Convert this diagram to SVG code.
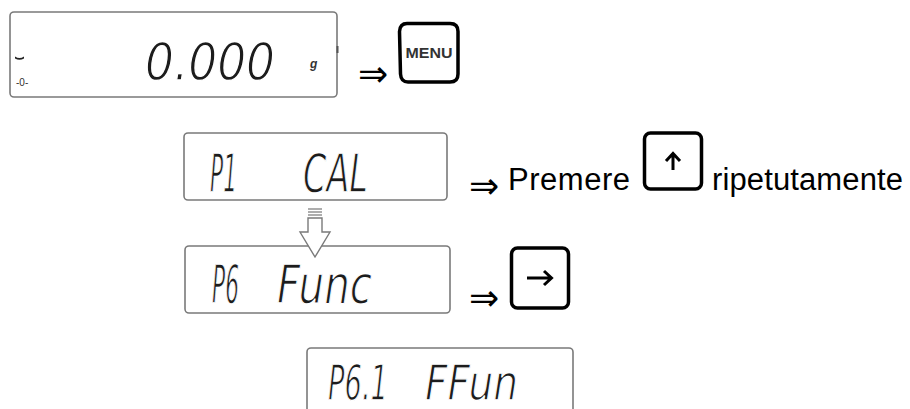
<svg xmlns="http://www.w3.org/2000/svg" width="910" height="409" viewBox="0 0 910 409">
<style>
.lcd{fill:#fff;stroke:#7a7a7a;stroke-width:1.6}
.seg{font-family:"DejaVu Sans",sans-serif;font-style:italic;fill:#1c1c1c;stroke:#fff;stroke-width:1.3}
.key{fill:#fff;stroke:#000;stroke-width:3.5}
.txt{font-family:"Liberation Sans",Arial,sans-serif;font-size:31px;fill:#000}
.imp{font-family:"DejaVu Sans",sans-serif;font-size:36px;fill:#000}
</style>
<rect width="910" height="409" fill="#fff"/>
<g id="display-zero">
<rect class="lcd" x="10" y="12" width="327" height="85" rx="4"/>
<rect x="336.5" y="46" width="2" height="7" fill="#555"/>
<path d="M15 56.5 Q19.5 59.5 24 56.5 L24 58.5 Q19.5 61 15 58.5 Z" fill="#222"/>
<text x="16" y="86" font-family="Liberation Sans,Arial,sans-serif" font-size="10" fill="#333">-0-</text>
<text class="seg" x="145" y="80" font-size="51" textLength="130" lengthAdjust="spacingAndGlyphs">0.000</text>
<text x="310" y="68" font-family="Liberation Sans,Arial,sans-serif" font-size="12" font-weight="bold" font-style="italic" fill="#333">g</text>
</g>
<g id="imp1"><text class="imp" x="358" y="86">⇒</text></g>
<g id="key-menu">
<path class="key" d="M407 23.5 H450 Q458 23.5 458 31.5 V74 Q458 82 450 82 H408 Q401 82 400.5 74 L399.5 31.5 Q400 23.5 407 23.5 Z" stroke-width="3"/>
<text x="429" y="57.5" text-anchor="middle" font-family="Liberation Sans,Arial,sans-serif" font-size="14" font-weight="bold" fill="#333" textLength="47" lengthAdjust="spacingAndGlyphs">MENU</text>
</g>
<g id="display-p1">
<rect class="lcd" x="184" y="133" width="263" height="67" rx="4"/>
<text class="seg" y="192" font-size="53"><tspan x="210" textLength="27" lengthAdjust="spacingAndGlyphs">P1</tspan><tspan x="303" textLength="65" lengthAdjust="spacingAndGlyphs">CAL</tspan></text>
</g>
<g id="instr1">
<text class="imp" x="469" y="198">⇒</text>
<text class="txt" x="508" y="190" textLength="122">Premere</text>
<rect class="key" x="644.5" y="133" width="57" height="56" rx="6"/>
<path d="M673 170 V155 M666 161 L673 153.5 L680 161" fill="none" stroke="#000" stroke-width="3"/>
<text class="txt" x="712" y="190" textLength="191">ripetutamente</text>
</g>
<g id="display-p6">
<rect class="lcd" x="185" y="246" width="265" height="67" rx="4"/>
<text class="seg" y="303" font-size="54"><tspan x="212" textLength="27" lengthAdjust="spacingAndGlyphs">P6</tspan><tspan x="277" textLength="95" lengthAdjust="spacingAndGlyphs">Func</tspan></text>
</g>
<g id="instr2">
<text class="imp" x="469" y="310">⇒</text>
<rect class="key" x="511.5" y="248" width="57" height="60" rx="6"/>
<path d="M527 278 H551 M544 271 L551.5 278 L544 285" fill="none" stroke="#000" stroke-width="3"/>
</g>
<g id="display-p61">
<rect class="lcd" x="307" y="348" width="266" height="80" rx="4"/>
<text class="seg" y="400" font-size="50"><tspan x="328" textLength="60" lengthAdjust="spacingAndGlyphs">P6.1</tspan><tspan x="425" textLength="93" lengthAdjust="spacingAndGlyphs">FFun</tspan></text>
</g>
<g id="connectors">
<g stroke="#8a8a8a" stroke-width="1.4">
<line x1="308" y1="209" x2="322" y2="209"/>
<line x1="308" y1="212" x2="322" y2="212"/>
<line x1="308" y1="215" x2="322" y2="215"/>
</g>
<polygon points="308,218 322,218 322,232 330,232 315,257 300,232 308,232" fill="#fff" stroke="#7a7a7a" stroke-width="1.4"/>
</g>
</svg>
